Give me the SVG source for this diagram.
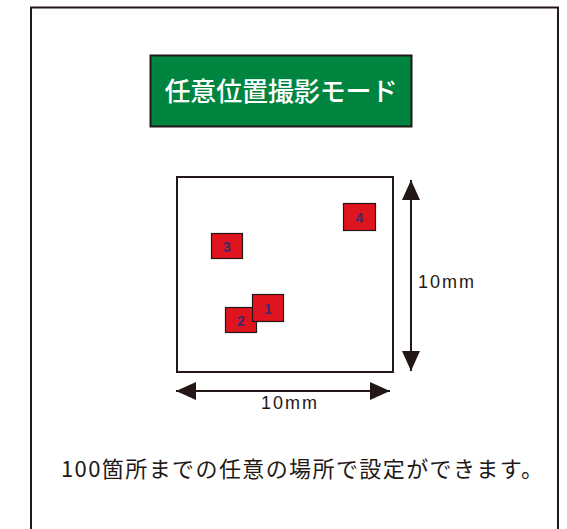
<svg xmlns="http://www.w3.org/2000/svg" width="567" height="529" viewBox="0 0 567 529">
<style>
.jp{font-family:"Noto Sans CJK JP","Noto Sans",sans-serif}
.mm{font-family:"Liberation Sans","DejaVu Sans",sans-serif;font-size:18px;fill:#231815;letter-spacing:2px}
.tag rect{fill:#e0141e;stroke:#231815;stroke-width:1.2}
.tag text{font-family:"Liberation Sans",sans-serif;font-size:14px;font-weight:bold;fill:#3a2c6c;text-anchor:middle}
.dim{stroke:#231815;stroke-width:2;fill:none}
</style>
<defs>
<marker id="ah" viewBox="0 0 20 18" refX="20" refY="9" markerWidth="20" markerHeight="18" markerUnits="userSpaceOnUse" orient="auto-start-reverse">
<path d="M0,0 L20,9 L0,18 Z" fill="#231815"/>
</marker>
</defs>
<rect width="567" height="529" fill="#ffffff"/>
<path id="frame" d="M31,535 V7.5 H558 V535" fill="none" stroke="#231815" stroke-width="2"/>
<g id="title">
<rect x="150.5" y="55.5" width="261" height="71" fill="#008540" stroke="#231815" stroke-width="2"/>
<text x="281" y="101" class="jp" font-size="26" font-weight="500" fill="#ffffff" text-anchor="middle" textLength="233">任意位置撮影モード</text>
</g>
<g id="area">
<rect x="177" y="177" width="216" height="195" fill="#ffffff" stroke="#231815" stroke-width="2"/>
</g>
<g id="p4" class="tag"><rect x="343.5" y="203.5" width="32" height="27"/><text x="359.5" y="222.5">4</text></g>
<g id="p3" class="tag"><rect x="211.5" y="233.5" width="31" height="25"/><text x="227" y="251.5">3</text></g>
<g id="p2" class="tag"><rect x="225.5" y="307.5" width="31" height="25"/><text x="241" y="325.5">2</text></g>
<g id="p1" class="tag"><rect x="252.5" y="294.5" width="31" height="27"/><text x="268" y="313.5">1</text></g>
<g id="connectors">
<line class="dim" x1="411" y1="180" x2="411" y2="371" marker-start="url(#ah)" marker-end="url(#ah)"/>
<line class="dim" x1="176" y1="391" x2="390" y2="391" marker-start="url(#ah)" marker-end="url(#ah)"/>
</g>
<text class="mm" x="418" y="288">10mm</text>
<text class="mm" x="261" y="409">10mm</text>
<text x="61" y="477" class="jp" font-size="22" fill="#231815" textLength="482">100箇所までの任意の場所で設定ができます。</text>
</svg>
